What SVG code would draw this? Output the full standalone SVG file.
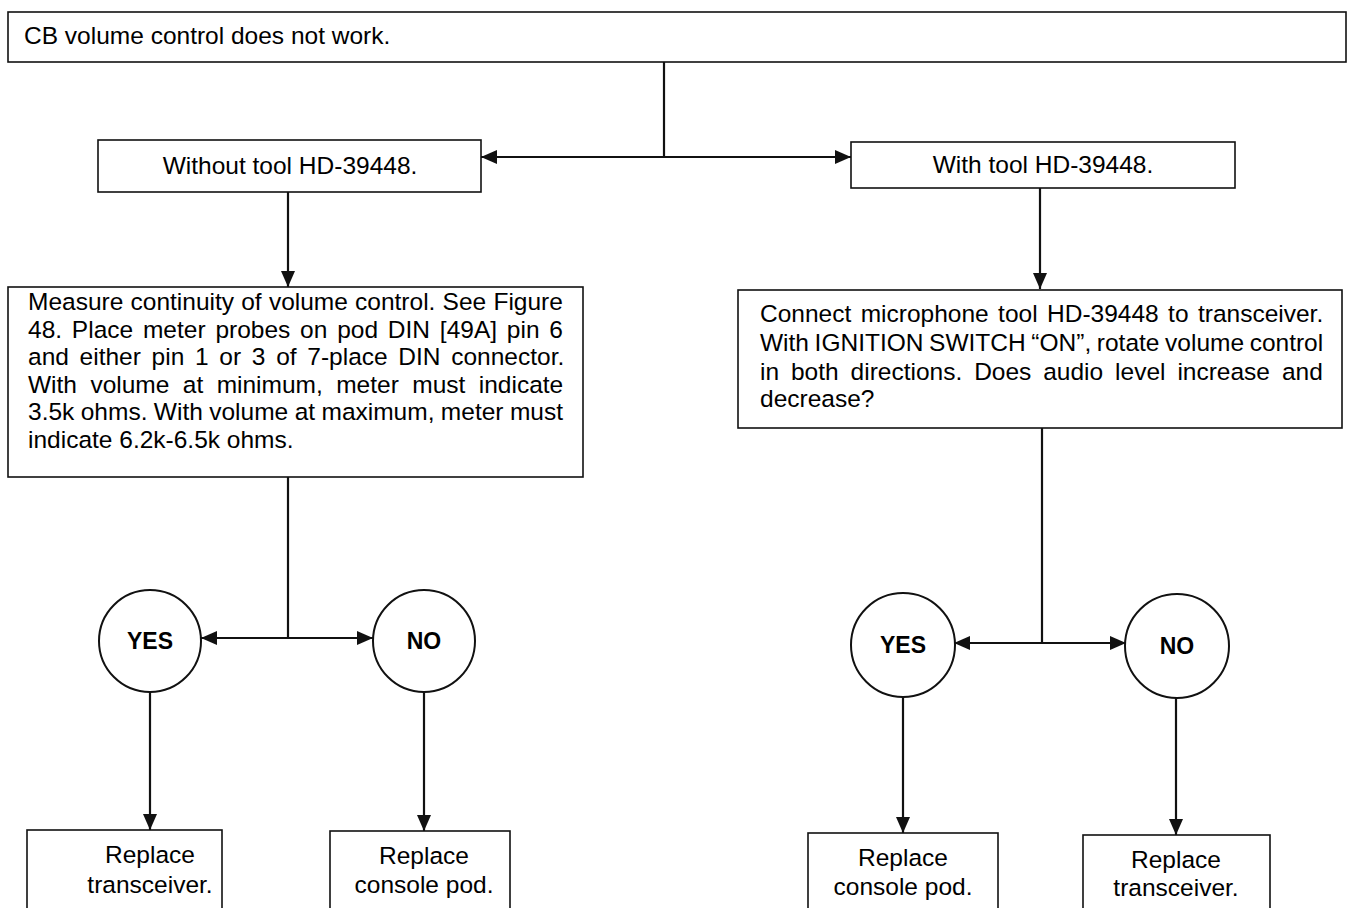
<svg xmlns="http://www.w3.org/2000/svg" width="1353" height="908" viewBox="0 0 1353 908">
  <style>
    .box { fill: #fff; stroke: #111; stroke-width: 1.6; }
    .circ { fill: #fff; stroke: #111; stroke-width: 2; }
    .t { font-family: "Liberation Sans", Arial, sans-serif; font-size: 24.5px; fill: #000; }
    .c { text-anchor: middle; }
    .b { font-weight: bold; font-size: 23px; }
    .ln { fill: none; stroke: #111; stroke-width: 2.2; }
  </style>
  <defs>
    <marker id="ah" viewBox="0 0 16 14" refX="16" refY="7" markerWidth="16" markerHeight="14" markerUnits="userSpaceOnUse" orient="auto-start-reverse">
      <path d="M0,0 L16,7 L0,14 Z" fill="#111"/>
    </marker>
  </defs>
  <rect width="1353" height="908" fill="#fff"/>

  <g id="connectors">
    <path class="ln" d="M664,62 V157"/>
    <path class="ln" d="M481,157 H851" marker-start="url(#ah)" marker-end="url(#ah)"/>
    <path class="ln" d="M288,192 V287" marker-end="url(#ah)"/>
    <path class="ln" d="M1040,188 V289" marker-end="url(#ah)"/>
    <path class="ln" d="M288,477 V638"/>
    <path class="ln" d="M201,638 H373" marker-start="url(#ah)" marker-end="url(#ah)"/>
    <path class="ln" d="M1042,428 V643"/>
    <path class="ln" d="M954,643 H1126" marker-start="url(#ah)" marker-end="url(#ah)"/>
    <path class="ln" d="M150,692 V830" marker-end="url(#ah)"/>
    <path class="ln" d="M424,692 V831" marker-end="url(#ah)"/>
    <path class="ln" d="M903,697 V833" marker-end="url(#ah)"/>
    <path class="ln" d="M1176,698 V835" marker-end="url(#ah)"/>
  </g>

  <g id="start">
    <rect class="box" x="8" y="12" width="1338" height="50"/>
    <text class="t" x="24" y="44">CB volume control does not work.</text>
  </g>

  <g id="without-tool">
    <rect class="box" x="98" y="140" width="383" height="52"/>
    <text class="t c" x="290" y="174">Without tool HD-39448.</text>
  </g>

  <g id="with-tool">
    <rect class="box" x="851" y="142" width="384" height="46"/>
    <text class="t c" x="1043" y="173">With tool HD-39448.</text>
  </g>

  <!-- justified paragraph: per-line word-spacing -->
  <g id="measure">
    <rect class="box" x="8" y="287" width="575" height="190"/>
    <text class="t" x="28" y="310" word-spacing="0.4">Measure continuity of volume control. See Figure</text>
    <text class="t" x="28" y="338" word-spacing="3">48. Place meter probes on pod DIN [49A] pin 6</text>
    <text class="t" x="28" y="365" word-spacing="3.9">and either pin 1 or 3 of 7-place DIN connector.</text>
    <text class="t" x="28" y="393" word-spacing="6.6">With volume at minimum, meter must indicate</text>
    <text class="t" x="28" y="420" word-spacing="-0.4">3.5k ohms. With volume at maximum, meter must</text>
    <text class="t" x="28" y="448">indicate 6.2k-6.5k ohms.</text>
  </g>

  <g id="connect-mic">
    <rect class="box" x="738" y="290" width="604" height="138"/>
    <text class="t" x="760" y="322" word-spacing="2.6">Connect microphone tool HD-39448 to transceiver.</text>
    <text class="t" x="760" y="351" word-spacing="-1.2">With IGNITION SWITCH “ON”, rotate volume control</text>
    <text class="t" x="760" y="380" word-spacing="5.1">in both directions. Does audio level increase and</text>
    <text class="t" x="760" y="407">decrease?</text>
  </g>

  <g id="yes-left">
    <circle class="circ" cx="150" cy="641" r="51"/>
    <text class="t b c" x="150" y="649">YES</text>
  </g>
  <g id="no-left">
    <circle class="circ" cx="424" cy="641" r="51"/>
    <text class="t b c" x="424" y="649">NO</text>
  </g>
  <g id="yes-right">
    <circle class="circ" cx="903" cy="645" r="52"/>
    <text class="t b c" x="903" y="653">YES</text>
  </g>
  <g id="no-right">
    <circle class="circ" cx="1177" cy="646" r="52"/>
    <text class="t b c" x="1177" y="654">NO</text>
  </g>

  <g id="replace-transceiver-left">
    <rect class="box" x="27" y="830" width="195" height="90"/>
    <text class="t c" x="150" y="863">Replace</text>
    <text class="t c" x="150" y="893">transceiver.</text>
  </g>
  <g id="replace-pod-left">
    <rect class="box" x="330" y="831" width="180" height="90"/>
    <text class="t c" x="424" y="864">Replace</text>
    <text class="t c" x="424" y="893">console pod.</text>
  </g>
  <g id="replace-pod-right">
    <rect class="box" x="808" y="833" width="190" height="90"/>
    <text class="t c" x="903" y="866">Replace</text>
    <text class="t c" x="903" y="895">console pod.</text>
  </g>
  <g id="replace-transceiver-right">
    <rect class="box" x="1083" y="835" width="187" height="90"/>
    <text class="t c" x="1176" y="868">Replace</text>
    <text class="t c" x="1176" y="896">transceiver.</text>
  </g>
</svg>
